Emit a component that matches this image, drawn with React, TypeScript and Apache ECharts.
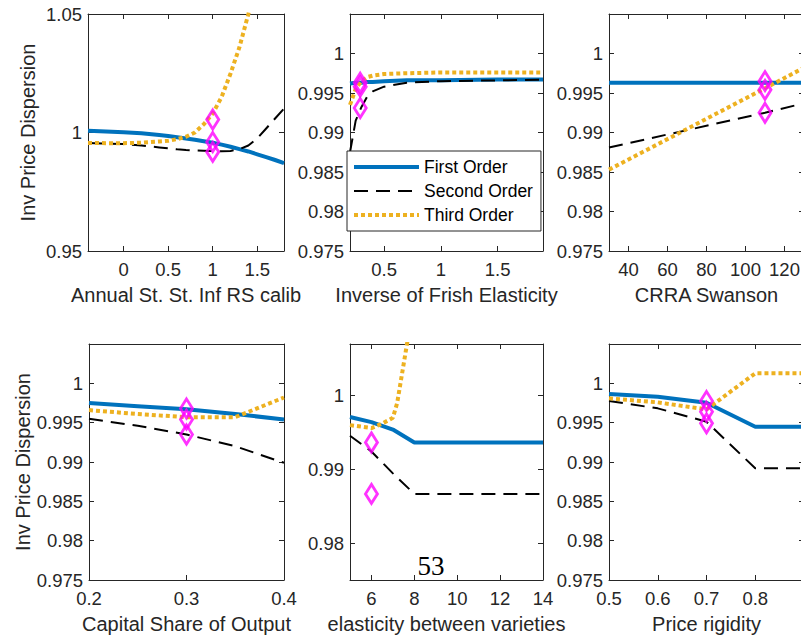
import React, { useEffect, useRef } from "react";
import * as echarts from "echarts";

const FONT = "'Liberation Sans', Arial, Helvetica, sans-serif";
const AX = "#262626";
const BLUE = "#0072BD";
const ORANGE = "#EDB120";
const MAGENTA = "#FF00FF";

// Panel 1: Annual St. St. Inf RS calib
const p1X = [-0.4, -0.2, 0, 0.2, 0.4, 0.5, 0.6, 0.7, 0.8, 0.9, 1.0, 1.1, 1.2, 1.3, 1.4, 1.5, 1.6, 1.7, 1.8];
const p1First = [1.0007, 1.0004, 1.0001, 0.9997, 0.9989, 0.9985, 0.998, 0.9975, 0.9969, 0.9963, 0.9957, 0.9949, 0.994, 0.993, 0.992, 0.9908, 0.9896, 0.9884, 0.9871];
const p1Second = [0.9956, 0.9953, 0.9951, 0.9945, 0.9937, 0.9933, 0.9929, 0.9926, 0.9924, 0.9923, 0.9922, 0.9921, 0.9922, 0.993, 0.9945, 0.9975, 1.0017, 1.0059, 1.0101];
const p1Third = [0.9956, 0.9955, 0.9955, 0.9957, 0.9962, 0.9965, 0.9972, 0.9982, 1.0, 1.0035, 1.008, 1.015, 1.0249, 1.036, 1.05, 1.066, 1.085, 1.105, 1.13];
const p1MarkX = [1, 1, 1];
const p1MarkY = [1.0055, 0.996, 0.9918];

// Panel 2: Inverse of Frish Elasticity
const p2X = [0.2, 0.25, 0.3, 0.35, 0.4, 0.5, 0.7, 1.0, 1.5, 1.9];
const p2First = [0.9962, 0.9963, 0.9963, 0.9964, 0.9964, 0.9965, 0.9966, 0.9966, 0.9967, 0.9967];
const p2Second = [0.9875, 0.9915, 0.9932, 0.9945, 0.9952, 0.9958, 0.9963, 0.9965, 0.9966, 0.9967];
const p2Third = [0.9935, 0.9955, 0.9965, 0.997, 0.9972, 0.9974, 0.9975, 0.9976, 0.9976, 0.9976];
const p2MarkX = [0.29, 0.29, 0.29];
const p2MarkY = [0.9963, 0.9958, 0.9931];

// Panel 3: CRRA Swanson
const p3X = [30, 70, 110, 130];
const p3First = [0.9963, 0.9963, 0.9963, 0.9963];
const p3Second = [0.9881, 0.9903, 0.9925, 0.9937];
const p3Third = [0.9853, 0.99045, 0.9956, 0.9982];
const p3MarkX = [110, 110, 110];
const p3MarkY = [0.9965, 0.9954, 0.9925];

// Panel 4: Capital Share of Output
const p4X = [0.2, 0.25, 0.3, 0.35, 0.4];
const p4First = [0.9975, 0.9971, 0.9967, 0.9961, 0.9954];
const p4Second = [0.9955, 0.9946, 0.9935, 0.992, 0.9899];
const p4Third = [0.9966, 0.9961, 0.9957, 0.9957, 0.9982];
const p4MarkX = [0.3, 0.3, 0.3];
const p4MarkY = [0.9968, 0.9954, 0.9935];

// Panel 5: elasticity between varieties
const p5X = [5, 6, 7, 8, 10, 12, 14];
const p5First = [0.9971, 0.9964, 0.9954, 0.99365, 0.99365, 0.99365, 0.99365];
const p5Second = [0.99456, 0.99242, 0.98946, 0.98667, 0.98667, 0.98667, 0.98667];
const p5ThirdX = [5, 5.5, 6, 6.5, 7, 7.2, 7.4, 7.6, 7.8, 8];
const p5Third = [0.996, 0.9958, 0.9956, 0.9962, 0.997, 0.999, 1.0025, 1.006, 1.0095, 1.014];
const p5MarkX = [6, 6];
const p5MarkY = [0.99365, 0.98667];

// Panel 6: Price rigidity
const p6X = [0.5, 0.6, 0.7, 0.8, 0.9];
const p6First = [0.99864, 0.9983, 0.99754, 0.99449, 0.99449];
const p6Second = [0.99775, 0.99682, 0.99512, 0.9892, 0.9892];
const p6Third = [0.99809, 0.99758, 0.99669, 1.00127, 1.00127];
const p6MarkX = [0.7, 0.7, 0.7];
const p6MarkY = [0.99775, 0.99639, 0.99492];

// Tick labels
const yTicksWide = [0.95, 1, 1.05];
const yTicksStd = [0.975, 0.98, 0.985, 0.99, 0.995, 1];
const yTicksP5 = [0.98, 0.99, 1];
const xTicksP1 = [0, 0.5, 1, 1.5];
const xTicksP2 = [0.5, 1, 1.5];
const xTicksP3 = [40, 60, 80, 100, 120];
const xTicksP4 = [0.2, 0.3, 0.4];
const xTicksP5 = [6, 8, 10, 12, 14];
const xTicksP6 = [0.5, 0.6, 0.7, 0.8];

const legendNames = ["First Order", "Second Order", "Third Order"];
const yTitle = "Inv Price Dispersion";

const zip = (xs: number[], ys: number[]) => xs.map((x, i) => [x, ys[i]]);
const fmt = (v: number) => String(Number(Number(v).toFixed(4)));

export default function App() {
  const ref = useRef<HTMLDivElement>(null);
  useEffect(() => {
    document.body.style.margin = "0";
    if (!ref.current) return;
    const chart = echarts.init(ref.current, null, { renderer: "svg" });

    const panels = [
      { grid: { left: 88, top: 14, width: 196, height: 237 }, x: [-0.4, 1.8], xt: xTicksP1, y: [0.95, 1.05], yt: yTicksWide, xName: "Annual St. St. Inf RS calib", yName: yTitle,
        first: zip(p1X, p1First), second: zip(p1X, p1Second), third: zip(p1X, p1Third), marks: zip(p1MarkX, p1MarkY) },
      { grid: { left: 350, top: 14, width: 193, height: 237 }, x: [0.2, 1.9], xt: xTicksP2, y: [0.975, 1.005], yt: yTicksStd, xName: "Inverse of Frish Elasticity", yName: "",
        first: zip(p2X, p2First), second: zip(p2X, p2Second), third: zip(p2X, p2Third), marks: zip(p2MarkX, p2MarkY) },
      { grid: { left: 609, top: 14, width: 195, height: 237 }, x: [30, 130], xt: xTicksP3, y: [0.975, 1.005], yt: yTicksStd, xName: "CRRA Swanson", yName: "",
        first: zip(p3X, p3First), second: zip(p3X, p3Second), third: zip(p3X, p3Third), marks: zip(p3MarkX, p3MarkY) },
      { grid: { left: 89, top: 344, width: 195, height: 236 }, x: [0.2, 0.4], xt: xTicksP4, y: [0.975, 1.005], yt: yTicksStd, xName: "Capital Share of Output", yName: yTitle,
        first: zip(p4X, p4First), second: zip(p4X, p4Second), third: zip(p4X, p4Third), marks: zip(p4MarkX, p4MarkY) },
      { grid: { left: 350, top: 344, width: 193, height: 236 }, x: [5, 14], xt: xTicksP5, y: [0.975, 1.007], yt: yTicksP5, xName: "elasticity between varieties", yName: "",
        first: zip(p5X, p5First), second: zip(p5X, p5Second), third: zip(p5ThirdX, p5Third), marks: zip(p5MarkX, p5MarkY) },
      { grid: { left: 609, top: 344, width: 195, height: 236 }, x: [0.5, 0.9], xt: xTicksP6, y: [0.975, 1.005], yt: yTicksStd, xName: "Price rigidity", yName: "",
        first: zip(p6X, p6First), second: zip(p6X, p6Second), third: zip(p6X, p6Third), marks: zip(p6MarkX, p6MarkY) },
    ];

    const grids: any[] = [];
    const xAxes: any[] = [];
    const yAxes: any[] = [];
    const series: any[] = [];
    const lineAx = { show: true, onZero: false, lineStyle: { color: AX, width: 1 } };
    const labelBase = { color: AX, fontSize: 18.5, fontFamily: FONT, formatter: fmt };

    panels.forEach((p, i) => {
      grids.push({ ...p.grid, outerBoundsMode: "none", containLabel: false });
      xAxes.push({
        type: "value", gridIndex: i, position: "bottom", min: p.x[0], max: p.x[1],
        name: p.xName, nameLocation: "middle", nameGap: 34,
        nameTextStyle: { color: AX, fontSize: 20, fontFamily: FONT },
        axisLine: lineAx,
        axisTick: { show: true, inside: true, length: 5, customValues: p.xt, lineStyle: { color: AX } },
        axisLabel: { ...labelBase, margin: 9, customValues: p.xt },
        splitLine: { show: false },
      });
      xAxes.push({
        type: "value", gridIndex: i, position: "top", min: p.x[0], max: p.x[1],
        axisLine: lineAx,
        axisTick: { show: true, inside: true, length: 5, customValues: p.xt, lineStyle: { color: AX } },
        axisLabel: { show: false },
        splitLine: { show: false },
      });
      yAxes.push({
        type: "value", gridIndex: i, position: "left", min: p.y[0], max: p.y[1],
        name: p.yName, nameLocation: "middle", nameGap: 50, nameRotate: 90,
        nameTextStyle: { color: AX, fontSize: 20, fontFamily: FONT },
        axisLine: lineAx,
        axisTick: { show: true, inside: true, length: 5, customValues: p.yt, lineStyle: { color: AX } },
        axisLabel: { ...labelBase, margin: 6, customValues: p.yt },
        splitLine: { show: false },
      });
      yAxes.push({
        type: "value", gridIndex: i, position: "right", min: p.y[0], max: p.y[1],
        axisLine: lineAx,
        axisTick: { show: true, inside: true, length: 5, customValues: p.yt, lineStyle: { color: AX } },
        axisLabel: { show: false },
        splitLine: { show: false },
      });
      const xi = 2 * i, yi = 2 * i;
      series.push({
        name: legendNames[0], type: "line", xAxisIndex: xi, yAxisIndex: yi, data: p.first,
        symbol: "none", showSymbol: false, clip: true, z: 3,
        lineStyle: { color: BLUE, width: 4 }, itemStyle: { color: BLUE, opacity: 0 },
      });
      series.push({
        name: legendNames[1], type: "line", xAxisIndex: xi, yAxisIndex: yi, data: p.second,
        symbol: "none", showSymbol: false, clip: true, z: 3,
        lineStyle: { color: "#000", width: 2, type: [14, 8] }, itemStyle: { color: "#000", opacity: 0 },
      });
      series.push({
        name: legendNames[2], type: "line", xAxisIndex: xi, yAxisIndex: yi, data: p.third,
        symbol: "none", showSymbol: false, clip: true, z: 3,
        lineStyle: { color: ORANGE, width: 4, type: [4, 3], cap: "butt" }, itemStyle: { color: ORANGE, opacity: 0 },
      });
      series.push({
        name: "Steady state", type: "scatter", xAxisIndex: xi, yAxisIndex: yi, data: p.marks,
        symbol: "diamond", symbolSize: [12, 19], z: 4,
        itemStyle: { color: "rgba(0,0,0,0)", borderColor: MAGENTA, borderWidth: 3 },
      });
    });

    chart.setOption({
      animation: false,
      backgroundColor: "#fff",
      textStyle: { fontFamily: FONT },
      grid: grids,
      xAxis: xAxes,
      yAxis: yAxes,
      series,
      legend: {
        data: legendNames, orient: "vertical", left: 347, top: 151,
        itemWidth: 65, itemHeight: 16, itemGap: 6, padding: [7, 8, 7, 5],
        backgroundColor: "#fff", borderColor: AX, borderWidth: 1, borderRadius: 0,
        selectedMode: false, z: 10,
        itemStyle: { opacity: 0 },
        lineStyle: { width: "inherit", type: "inherit" },
        textStyle: { fontSize: 17.5, color: "#000", fontFamily: FONT },
      },
      graphic: [
        { type: "text", x: 431, y: 566, z: 20,
          style: { text: "53", fontSize: 27, fontFamily: "'Liberation Serif', 'DejaVu Serif', serif", align: "center", verticalAlign: "middle", fill: "#000" } },
      ],
    });
    return () => chart.dispose();
  }, []);
  return <div ref={ref} style={{ width: 801, height: 638 }} />;
}
